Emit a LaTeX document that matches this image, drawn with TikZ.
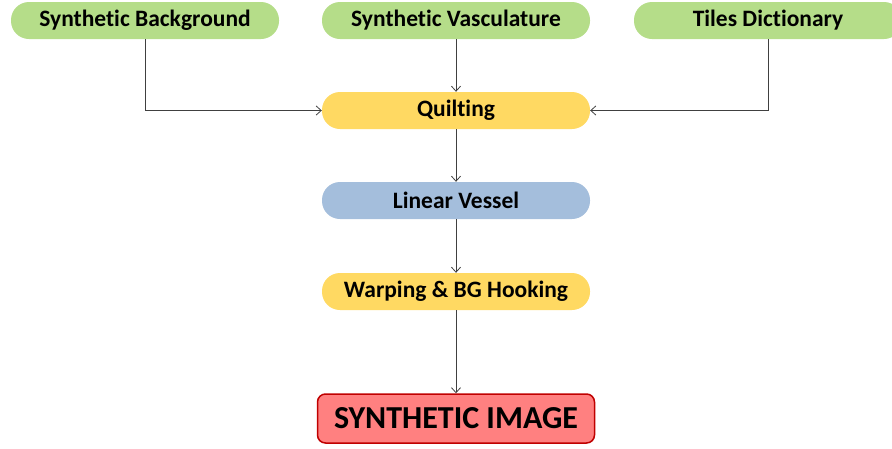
\documentclass[tikz,border=0pt]{standalone}
\usepackage{fontspec}
\setmainfont[RawFeature={-liga;-clig;-calt;-dlig}]{Carlito}
\usepackage{tikz}
\usetikzlibrary{arrows.meta,positioning}

\definecolor{inputgreen}{RGB}{181,221,137}
\definecolor{stepyellow}{RGB}{255,217,98}
\definecolor{stepblue}{RGB}{164,190,220}
\definecolor{resultred}{RGB}{255,128,128}
\definecolor{resultborder}{RGB}{192,0,0}
\definecolor{wire}{RGB}{64,64,64}

\begin{document}
\begin{tikzpicture}[x=1pt, y=1pt, node distance = 90pt, on grid,
	pill/.style	= {rounded corners=18pt, minimum width=268pt, minimum height=37pt,
			   inner sep=0pt, font=\fontsize{23.5}{27}\selectfont\bfseries},
	input/.style	= {pill, fill=inputgreen},
	work/.style	= {pill, fill=stepyellow},
	vessel/.style	= {pill, fill=stepblue},
	result/.style	= {rounded corners=8pt, minimum width=277pt, minimum height=49pt,
			   inner sep=0pt, fill=resultred, draw=resultborder, line width=1.5pt,
			   font=\fontsize{32}{36}\selectfont\bfseries},
	elbow/.style	= {to path={|- (\tikztotarget)}}]
	\useasboundingbox (0,0) rectangle (892,-448);

	\node	(SV)	[input]	at (456,-20.5)			{Synthetic Vasculature};
	\node	(SB)	[input, left=311pt of SV]		{Synthetic Background};
	\node	(TD)	[input, right=312pt of SV]		{Tiles Dictionary};
	\node	(Q)	[work, below=of SV]			{Quilting};
	\node	(LV)	[vessel, below=of Q]			{Linear Vessel};
	\node	(WB)	[work, below=91pt of LV]		{Warping \& BG Hooking};
	\node	(SI)	[result, below=127pt of WB]		{SYNTHETIC IMAGE};

	\path [-{Straight Barb[length=5pt, width=9pt]}, draw=wire, line width=0.8pt]
	(SV)	edge			(Q)
	(SB)	edge [elbow]		(Q)
	(TD)	edge [elbow]		(Q)
	(Q)	edge			(LV)
	(LV)	edge			(WB)
	(WB)	edge			(SI)
	;
\end{tikzpicture}
\end{document}
